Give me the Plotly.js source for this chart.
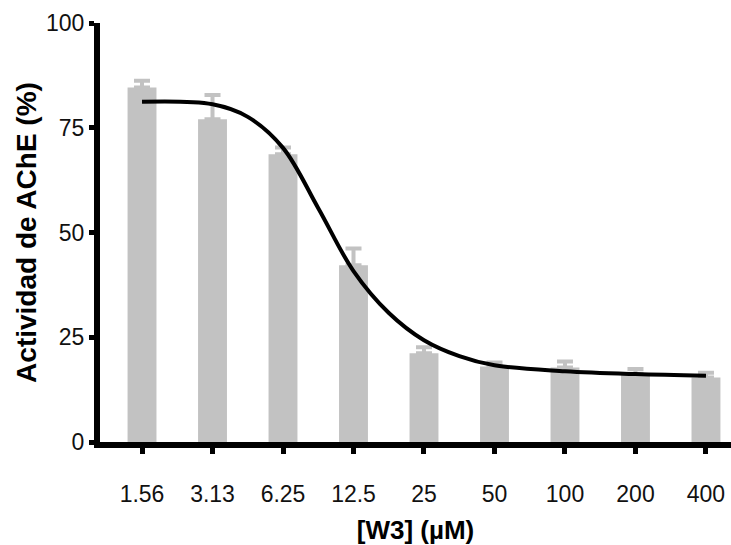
<!DOCTYPE html>
<html>
<head>
<meta charset="utf-8">
<script src="https://cdn.plot.ly/plotly-3.0.1.min.js"></script>
<style>html,body{margin:0;padding:0;background:#fff;}#chart{width:731px;height:545px;}</style>
</head>
<body>
<div id="chart"></div>
<script>
// Concentration categories (µM)
const categories = ["1.56", "3.13", "6.25", "12.5", "25", "50", "100", "200", "400"];
// Mean AChE activity (%)
const activity = [84.6, 77.0, 68.7, 42.2, 21.2, 18.0, 17.8, 16.3, 15.4];
// Upper error (SD) above each bar
const errorUp = [1.6, 5.8, 1.6, 4.0, 1.4, 1.0, 1.4, 1.1, 1.1];
// Fitted dose-response curve: concentration (µM) and activity (%)
const curveConc = [1.5625, 3.125, 4.42, 6.25, 8.84, 12.5, 17.7, 25, 35.4, 50, 100, 200, 400];
const curveAct  = [81.2, 80.6, 77.6, 70.2, 55.8, 40.8, 30.8, 24.3, 20.5, 18.3, 16.9, 16.2, 15.8];

const catRange = [-0.596, 8.355];
const logRange = catRange.map(c => Math.log10(1.5625) + c * Math.log10(2));

const font = "'Liberation Sans', Arial, sans-serif";
const grey = "#c2c2c2";

const traces = [
  {
    type: "bar",
    x: categories,
    y: activity,
    width: 0.41,
    marker: {color: grey, line: {width: 0}},
    error_y: {type: "data", array: errorUp, arrayminus: categories.map(() => 0), symmetric: false,
              color: grey, thickness: 4, width: 8},
    hoverinfo: "x+y"
  },
  {
    type: "scatter",
    mode: "lines",
    x: curveConc,
    y: curveAct,
    xaxis: "x2",
    line: {color: "#000", width: 4, shape: "spline", smoothing: 1},
    hoverinfo: "x+y"
  }
];

const layout = {
  width: 731, height: 545,
  margin: {l: 100, r: 0, t: 23, b: 103},
  paper_bgcolor: "#fff", plot_bgcolor: "#fff",
  showlegend: false,
  font: {family: font, color: "#111"},
  xaxis: {
    type: "category",
    range: catRange,
    showline: true, linecolor: "#000", linewidth: 6,
    ticks: "outside", ticklen: 6, tickwidth: 5, tickcolor: "#000",
    showgrid: false, zeroline: false,
    tickfont: {size: 23, family: font, color: "#111"},
    ticklabelstandoff: 20,
    title: {text: "<b>[W3] (µM)</b>", font: {size: 26, family: font, color: "#000"}, standoff: 18}
  },
  xaxis2: {
    type: "log",
    overlaying: "x",
    range: logRange,
    visible: false
  },
  yaxis: {
    range: [0, 100],
    tickvals: [0, 25, 50, 75, 100],
    showline: true, linecolor: "#000", linewidth: 6,
    ticks: "outside", ticklen: 5, tickwidth: 5, tickcolor: "#000",
    showgrid: false, zeroline: false,
    tickfont: {size: 23, family: font, color: "#111"},
    title: {text: "<b>Actividad de AChE (%)</b>", font: {size: 28, family: font, color: "#000"}, standoff: 3}
  }
};

Plotly.newPlot("chart", traces, layout, {displayModeBar: false, staticPlot: true});
</script>
</body>
</html>
